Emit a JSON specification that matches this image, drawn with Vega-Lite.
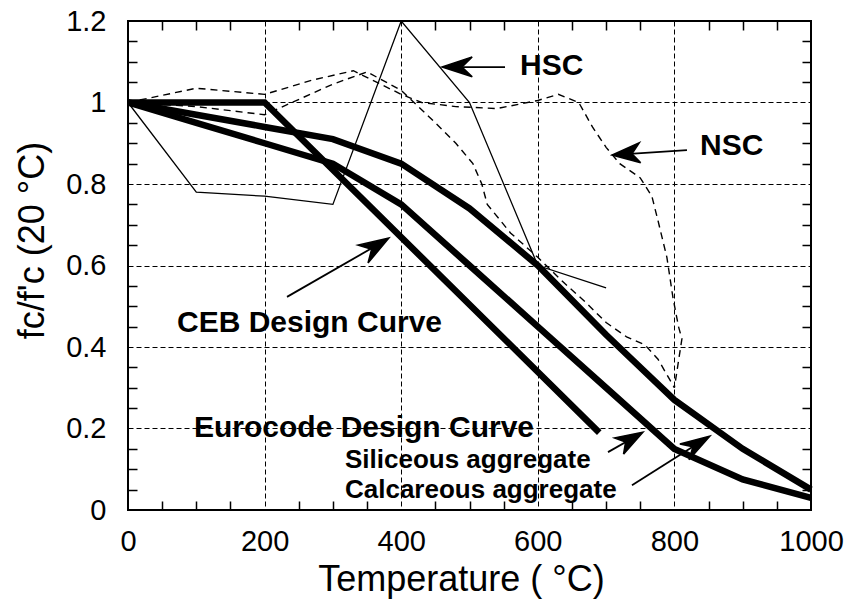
{
  "$schema": "https://vega.github.io/schema/vega-lite/v6.json",
  "width": 683,
  "height": 489,
  "autosize": {"type": "none"},
  "padding": {"left": 128, "top": 21, "right": 33, "bottom": 94},
  "background": "white",
  "config": {"font": "Liberation Sans", "view": {"stroke": "black", "strokeWidth": 2}},
  "datasets": {
    "curves": [
      {"series": "CEB", "ord": 1, "T": 0, "v": 1},
      {"series": "CEB", "ord": 2, "T": 200, "v": 1},
      {"series": "CEB", "ord": 3, "T": 690, "v": 0.19},
      {"series": "Calcareous", "ord": 1, "T": 0, "v": 1},
      {"series": "Calcareous", "ord": 2, "T": 100, "v": 0.97},
      {"series": "Calcareous", "ord": 3, "T": 200, "v": 0.94},
      {"series": "Calcareous", "ord": 4, "T": 300, "v": 0.91},
      {"series": "Calcareous", "ord": 5, "T": 400, "v": 0.85},
      {"series": "Calcareous", "ord": 6, "T": 500, "v": 0.74},
      {"series": "Calcareous", "ord": 7, "T": 600, "v": 0.6},
      {"series": "Calcareous", "ord": 8, "T": 700, "v": 0.43},
      {"series": "Calcareous", "ord": 9, "T": 800, "v": 0.27},
      {"series": "Calcareous", "ord": 10, "T": 900, "v": 0.15},
      {"series": "Calcareous", "ord": 11, "T": 1000, "v": 0.05},
      {"series": "Siliceous", "ord": 1, "T": 0, "v": 1},
      {"series": "Siliceous", "ord": 2, "T": 100, "v": 0.95},
      {"series": "Siliceous", "ord": 3, "T": 200, "v": 0.9},
      {"series": "Siliceous", "ord": 4, "T": 300, "v": 0.85},
      {"series": "Siliceous", "ord": 5, "T": 400, "v": 0.75},
      {"series": "Siliceous", "ord": 6, "T": 500, "v": 0.6},
      {"series": "Siliceous", "ord": 7, "T": 600, "v": 0.45},
      {"series": "Siliceous", "ord": 8, "T": 700, "v": 0.3},
      {"series": "Siliceous", "ord": 9, "T": 800, "v": 0.15},
      {"series": "Siliceous", "ord": 10, "T": 900, "v": 0.075},
      {"series": "Siliceous", "ord": 11, "T": 1000, "v": 0.03},
      {"series": "HSC", "ord": 1, "T": 0, "v": 1},
      {"series": "HSC", "ord": 2, "T": 100, "v": 0.78},
      {"series": "HSC", "ord": 3, "T": 200, "v": 0.77},
      {"series": "HSC", "ord": 4, "T": 300, "v": 0.75},
      {"series": "HSC", "ord": 5, "T": 400, "v": 1.2},
      {"series": "HSC", "ord": 6, "T": 500, "v": 1.0},
      {"series": "HSC", "ord": 7, "T": 600, "v": 0.6},
      {"series": "HSC", "ord": 8, "T": 700, "v": 0.545},
      {"series": "NSC-A", "ord": 1, "T": 0, "v": 1},
      {"series": "NSC-A", "ord": 2, "T": 100, "v": 1.035},
      {"series": "NSC-A", "ord": 3, "T": 200, "v": 1.02},
      {"series": "NSC-A", "ord": 4, "T": 270, "v": 1.055},
      {"series": "NSC-A", "ord": 5, "T": 330, "v": 1.078},
      {"series": "NSC-A", "ord": 6, "T": 400, "v": 1.02},
      {"series": "NSC-A", "ord": 7, "T": 430, "v": 1.0},
      {"series": "NSC-A", "ord": 8, "T": 480, "v": 0.99},
      {"series": "NSC-A", "ord": 9, "T": 540, "v": 0.985},
      {"series": "NSC-A", "ord": 10, "T": 600, "v": 1.005},
      {"series": "NSC-A", "ord": 11, "T": 630, "v": 1.02},
      {"series": "NSC-A", "ord": 12, "T": 660, "v": 1.0},
      {"series": "NSC-A", "ord": 13, "T": 680, "v": 0.94},
      {"series": "NSC-A", "ord": 14, "T": 700, "v": 0.89},
      {"series": "NSC-A", "ord": 15, "T": 720, "v": 0.85},
      {"series": "NSC-A", "ord": 16, "T": 750, "v": 0.815},
      {"series": "NSC-A", "ord": 17, "T": 767, "v": 0.77},
      {"series": "NSC-A", "ord": 18, "T": 776, "v": 0.71},
      {"series": "NSC-A", "ord": 19, "T": 789, "v": 0.62},
      {"series": "NSC-A", "ord": 20, "T": 798, "v": 0.52},
      {"series": "NSC-A", "ord": 21, "T": 806, "v": 0.45},
      {"series": "NSC-A", "ord": 22, "T": 811, "v": 0.42},
      {"series": "NSC-A", "ord": 23, "T": 800, "v": 0.3},
      {"series": "NSC-B", "ord": 1, "T": 0, "v": 1},
      {"series": "NSC-B", "ord": 2, "T": 100, "v": 0.99},
      {"series": "NSC-B", "ord": 3, "T": 200, "v": 0.97},
      {"series": "NSC-B", "ord": 4, "T": 300, "v": 1.045},
      {"series": "NSC-B", "ord": 5, "T": 350, "v": 1.075},
      {"series": "NSC-B", "ord": 6, "T": 400, "v": 1.03},
      {"series": "NSC-B", "ord": 7, "T": 450, "v": 0.95},
      {"series": "NSC-B", "ord": 8, "T": 480, "v": 0.9},
      {"series": "NSC-B", "ord": 9, "T": 505, "v": 0.85},
      {"series": "NSC-B", "ord": 10, "T": 518, "v": 0.8},
      {"series": "NSC-B", "ord": 11, "T": 526, "v": 0.75},
      {"series": "NSC-B", "ord": 12, "T": 560, "v": 0.68},
      {"series": "NSC-B", "ord": 13, "T": 600, "v": 0.62},
      {"series": "NSC-B", "ord": 14, "T": 640, "v": 0.555},
      {"series": "NSC-B", "ord": 15, "T": 670, "v": 0.51},
      {"series": "NSC-B", "ord": 16, "T": 700, "v": 0.46},
      {"series": "NSC-B", "ord": 17, "T": 730, "v": 0.425},
      {"series": "NSC-B", "ord": 18, "T": 757, "v": 0.405},
      {"series": "NSC-B", "ord": 19, "T": 776, "v": 0.37},
      {"series": "NSC-B", "ord": 20, "T": 800, "v": 0.3}
    ],
    "shafts": [
      {"arrow": "HSC", "ord": 1, "T": 552, "v": 1.087},
      {"arrow": "HSC", "ord": 2, "T": 470, "v": 1.087},
      {"arrow": "NSC", "ord": 1, "T": 818.4, "v": 0.883},
      {"arrow": "NSC", "ord": 2, "T": 718, "v": 0.872},
      {"arrow": "CEB", "ord": 1, "T": 232.8, "v": 0.523},
      {"arrow": "CEB", "ord": 2, "T": 372, "v": 0.657},
      {"arrow": "Sil", "ord": 1, "T": 702.8, "v": 0.142},
      {"arrow": "Sil", "ord": 2, "T": 745, "v": 0.182},
      {"arrow": "Cal", "ord": 1, "T": 737.9, "v": 0.061},
      {"arrow": "Cal", "ord": 2, "T": 842, "v": 0.171}
    ],
    "heads": [
      {"arrow": "HSC", "ord": 1, "T": 504, "v": 1.112},
      {"arrow": "HSC", "ord": 2, "T": 459.7, "v": 1.087},
      {"arrow": "HSC", "ord": 3, "T": 504, "v": 1.063},
      {"arrow": "HSC", "ord": 4, "T": 489, "v": 1.087},
      {"arrow": "HSC", "ord": 5, "T": 504, "v": 1.112},
      {"arrow": "NSC", "ord": 1, "T": 750.7, "v": 0.852},
      {"arrow": "NSC", "ord": 2, "T": 708.6, "v": 0.871},
      {"arrow": "NSC", "ord": 3, "T": 748.6, "v": 0.901},
      {"arrow": "NSC", "ord": 4, "T": 737.9, "v": 0.874},
      {"arrow": "NSC", "ord": 5, "T": 750.7, "v": 0.852},
      {"arrow": "CEB", "ord": 1, "T": 351.4, "v": 0.606},
      {"arrow": "CEB", "ord": 2, "T": 382, "v": 0.6675},
      {"arrow": "CEB", "ord": 3, "T": 336.8, "v": 0.65},
      {"arrow": "CEB", "ord": 4, "T": 356.7, "v": 0.64},
      {"arrow": "CEB", "ord": 5, "T": 351.4, "v": 0.606},
      {"arrow": "Sil", "ord": 1, "T": 725.5, "v": 0.137},
      {"arrow": "Sil", "ord": 2, "T": 754, "v": 0.191},
      {"arrow": "Sil", "ord": 3, "T": 712.3, "v": 0.177},
      {"arrow": "Sil", "ord": 4, "T": 728.6, "v": 0.167},
      {"arrow": "Sil", "ord": 5, "T": 725.5, "v": 0.137},
      {"arrow": "Cal", "ord": 1, "T": 821.4, "v": 0.123},
      {"arrow": "Cal", "ord": 2, "T": 852, "v": 0.1816},
      {"arrow": "Cal", "ord": 3, "T": 808, "v": 0.162},
      {"arrow": "Cal", "ord": 4, "T": 827, "v": 0.155},
      {"arrow": "Cal", "ord": 5, "T": 821.4, "v": 0.123}
    ],
    "labels": [
      {"kind": "main", "text": "HSC", "T": 574, "v": 1.067},
      {"kind": "main", "text": "NSC", "T": 837.5, "v": 0.871},
      {"kind": "main", "text": "CEB Design Curve", "T": 71.7, "v": 0.437},
      {"kind": "main", "text": "Eurocode Design Curve", "T": 96.6, "v": 0.179},
      {"kind": "aggregate", "text": "Siliceous aggregate", "T": 317.7, "v": 0.103},
      {"kind": "aggregate", "text": "Calcareous aggregate", "T": 317.7, "v": 0.029}
    ]
  },
  "resolve": {"axis": {"x": "independent", "y": "independent"}},
  "layer": [
    {
      "data": {"name": "curves"},
      "transform": [{"filter": {"field": "series", "oneOf": ["CEB", "Calcareous", "Siliceous"]}}],
      "mark": {"type": "line", "color": "black", "strokeWidth": 6.5, "strokeJoin": "miter"},
      "encoding": {
        "x": {
          "field": "T", "type": "quantitative",
          "scale": {"domain": [0, 1000], "nice": false, "zero": false},
          "axis": {
            "orient": "bottom",
            "values": [0,50,100,150,200,250,300,350,400,450,500,550,600,650,700,750,800,850,900,950,1000],
            "labelExpr": "datum.value % 200 == 0 ? format(datum.value, 'd') : ''",
            "labelFlush": false, "labelOverlap": false,
            "labelFontSize": 29, "labelColor": "black", "labelPadding": 17,
            "ticks": false, "domain": false,
            "grid": true, "gridColor": "black", "gridOpacity": 1,
            "gridDash": {"condition": {"test": "datum.value % 200 == 0", "value": [5, 3]}, "value": [9, 471]},
            "gridWidth": {"condition": {"test": "datum.value % 200 == 0", "value": 1}, "value": 1.5},
            "title": "Temperature ( °C)", "titleFontSize": 36, "titleFontWeight": "normal", "titleColor": "black",
            "titleX": 333, "titleY": 80, "titleBaseline": "alphabetic"
          }
        },
        "y": {
          "field": "v", "type": "quantitative",
          "scale": {"domain": [0, 1.2], "nice": false, "zero": false},
          "axis": {
            "orient": "left",
            "values": [0,0.05,0.1,0.15,0.2,0.25,0.3,0.35,0.4,0.45,0.5,0.55,0.6,0.65,0.7,0.75,0.8,0.85,0.9,0.95,1,1.05,1.1,1.15,1.2],
            "labelExpr": "abs(datum.value*5 - round(datum.value*5)) < 0.001 ? format(datum.value, '.2~f') : ''",
            "labelFlush": false, "labelOverlap": false,
            "labelFontSize": 29, "labelColor": "black", "labelPadding": 22,
            "ticks": false, "domain": false,
            "grid": true, "gridColor": "black", "gridOpacity": 1,
            "gridDash": {"condition": {"test": "abs(datum.value*5 - round(datum.value*5)) < 0.001", "value": [5, 3]}, "value": [9, 665]},
            "gridWidth": {"condition": {"test": "abs(datum.value*5 - round(datum.value*5)) < 0.001", "value": 1}, "value": 1.5},
            "title": "fc/f'c (20 °C)", "titleFontSize": 36, "titleFontWeight": "normal", "titleColor": "black",
            "titleX": -85, "titleY": 219, "titleAngle": -90, "titleBaseline": "alphabetic"
          }
        },
        "detail": {"field": "series"},
        "order": {"field": "ord"}
      }
    },
    {
      "data": {"name": "curves"},
      "transform": [{"filter": {"field": "series", "equal": "HSC"}}],
      "mark": {"type": "line", "color": "black", "strokeWidth": 1.3},
      "encoding": {
        "x": {"field": "T", "type": "quantitative", "scale": {"domain": [0, 1000], "nice": false, "zero": false}, "axis": null},
        "y": {"field": "v", "type": "quantitative", "scale": {"domain": [0, 1.2], "nice": false, "zero": false}, "axis": null},
        "order": {"field": "ord"}
      }
    },
    {
      "data": {"name": "curves"},
      "transform": [{"filter": {"field": "series", "oneOf": ["NSC-A", "NSC-B"]}}],
      "mark": {"type": "line", "color": "black", "strokeWidth": 1.4, "strokeDash": [7, 5]},
      "encoding": {
        "x": {"field": "T", "type": "quantitative", "scale": {"domain": [0, 1000], "nice": false, "zero": false}, "axis": null},
        "y": {"field": "v", "type": "quantitative", "scale": {"domain": [0, 1.2], "nice": false, "zero": false}, "axis": null},
        "detail": {"field": "series"},
        "order": {"field": "ord"}
      }
    },
    {
      "data": {"name": "shafts"},
      "mark": {"type": "line", "color": "black", "strokeWidth": 1.8},
      "encoding": {
        "x": {"field": "T", "type": "quantitative", "scale": {"domain": [0, 1000], "nice": false, "zero": false}, "axis": null},
        "y": {"field": "v", "type": "quantitative", "scale": {"domain": [0, 1.2], "nice": false, "zero": false}, "axis": null},
        "detail": {"field": "arrow"},
        "order": {"field": "ord"}
      }
    },
    {
      "data": {"name": "heads"},
      "mark": {"type": "line", "stroke": "black", "fill": "black", "strokeWidth": 1.5, "strokeJoin": "miter"},
      "encoding": {
        "x": {"field": "T", "type": "quantitative", "scale": {"domain": [0, 1000], "nice": false, "zero": false}, "axis": null},
        "y": {"field": "v", "type": "quantitative", "scale": {"domain": [0, 1.2], "nice": false, "zero": false}, "axis": null},
        "detail": {"field": "arrow"},
        "order": {"field": "ord"}
      }
    },
    {
      "data": {"name": "labels"},
      "transform": [{"filter": {"field": "kind", "equal": "main"}}],
      "mark": {"type": "text", "align": "left", "baseline": "alphabetic", "fontSize": 30, "fontWeight": "bold", "color": "black"},
      "encoding": {
        "x": {"field": "T", "type": "quantitative", "scale": {"domain": [0, 1000], "nice": false, "zero": false}, "axis": null},
        "y": {"field": "v", "type": "quantitative", "scale": {"domain": [0, 1.2], "nice": false, "zero": false}, "axis": null},
        "text": {"field": "text"}
      }
    },
    {
      "data": {"name": "labels"},
      "transform": [{"filter": {"field": "kind", "equal": "aggregate"}}],
      "mark": {"type": "text", "align": "left", "baseline": "alphabetic", "fontSize": 26, "fontWeight": "bold", "color": "black"},
      "encoding": {
        "x": {"field": "T", "type": "quantitative", "scale": {"domain": [0, 1000], "nice": false, "zero": false}, "axis": null},
        "y": {"field": "v", "type": "quantitative", "scale": {"domain": [0, 1.2], "nice": false, "zero": false}, "axis": null},
        "text": {"field": "text"}
      }
    }
  ]
}
